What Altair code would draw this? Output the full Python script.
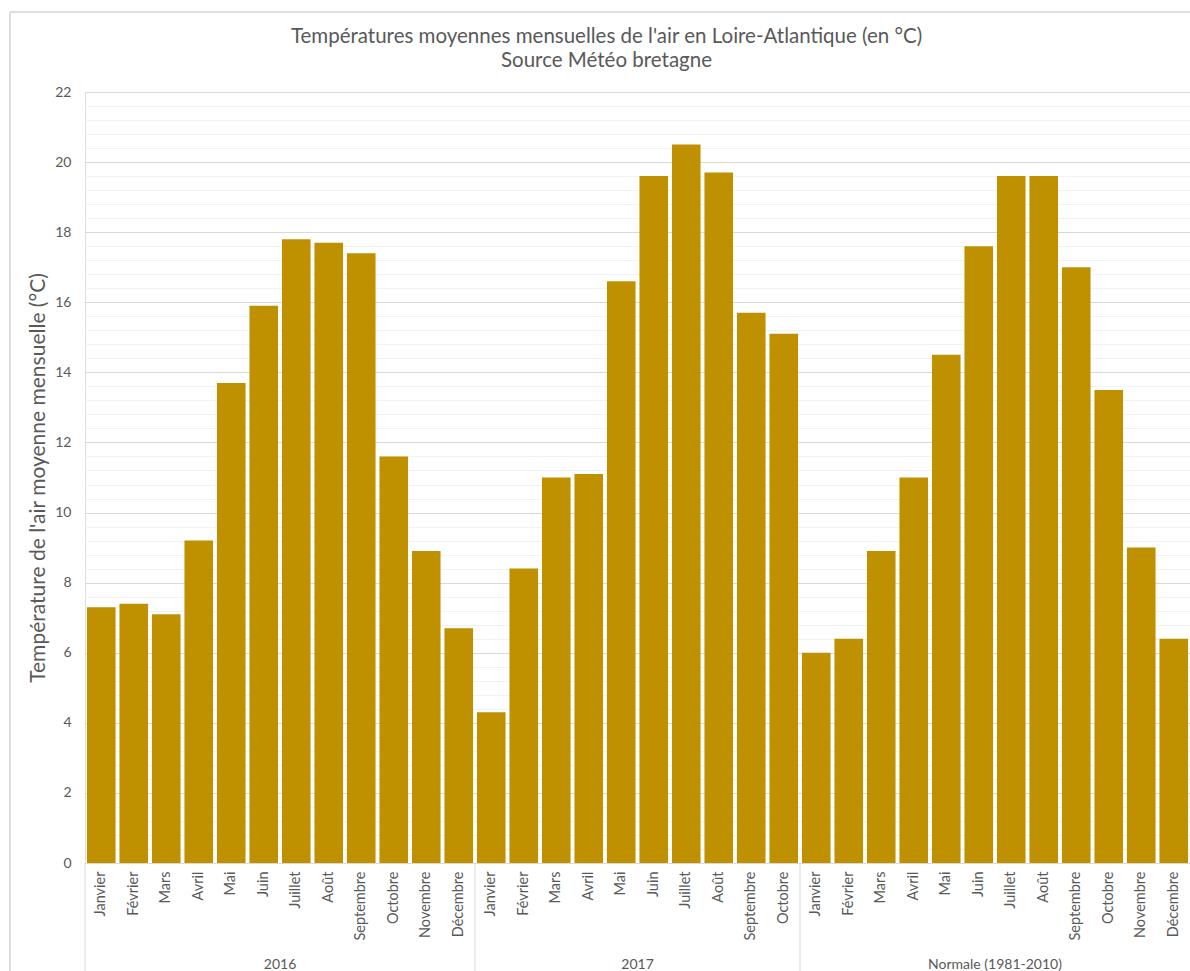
import altair as alt
import pandas as pd

# Monthly mean air temperatures (°C), Loire-Atlantique
months = ["Janvier", "Février", "Mars", "Avril", "Mai", "Juin", "Juillet",
          "Août", "Septembre", "Octobre", "Novembre", "Décembre"]
groups = ["2016", "2017", "Normale (1981-2010)"]
temps_2016 = [7.3, 7.4, 7.1, 9.2, 13.7, 15.9, 17.8, 17.7, 17.4, 11.6, 8.9, 6.7]
temps_2017 = [4.3, 8.4, 11.0, 11.1, 16.6, 19.6, 20.5, 19.7, 15.7, 15.1]
temps_normale = [6.0, 6.4, 8.9, 11.0, 14.5, 17.6, 19.6, 19.6, 17.0, 13.5, 9.0, 6.4]
title_lines = ["Températures moyennes mensuelles de l'air en Loire-Atlantique (en °C)",
               "Source Météo bretagne"]

rows = []
for grp, vals in zip(groups, [temps_2016, temps_2017, temps_normale]):
    for m, v in zip(months, vals):
        rows.append({"groupe": grp, "mois": m, "cle": f"{grp}|{m}", "temp": v})
df = pd.DataFrame(rows)
order = list(df["cle"])

# group boundaries (first bar of each group) and label anchors (middle of group)
bounds = pd.DataFrame({"cle": [f"{g}|Janvier" for g in groups]})
mid_month = {"2016": "Juin", "2017": "Mai", "Normale (1981-2010)": "Juin"}
glabels = pd.DataFrame({"cle": [f"{g}|{mid_month[g]}" for g in groups], "txt": groups})

W, H = 1105, 771
GREY = "#595959"
FONT = "Lato"

minor_vals = [round(k * 0.4, 1) for k in range(0, 56)]

xscale = alt.Scale(domain=order, paddingInner=0, paddingOuter=0)

bars = alt.Chart(df).mark_bar(color="#BF9000", width={"band": 0.88}).encode(
    x=alt.X("cle:N", sort=order, scale=xscale,
            axis=alt.Axis(title=None, labelAngle=270,
                          labelExpr="split(datum.label, '|')[1]",
                          labelFont=FONT, labelFontSize=14.5, labelColor=GREY,
                          labelPadding=8, ticks=False, domainColor="#D9D9D9",
                          labelOverlap=False)),
    y=alt.Y("temp:Q", scale=alt.Scale(domain=[0, 22], nice=False),
            axis=alt.Axis(values=minor_vals,
                          labelExpr="datum.value % 2 === 0 ? format(datum.value, 'd') : ''",
                          labelFont=FONT, labelFontSize=14, labelColor=GREY,
                          labelPadding=14, labelOverlap=False, ticks=False, domain=False,
                          gridColor={"condition": {"test": "datum.value % 2 === 0",
                                                   "value": "#D9D9D9"},
                                     "value": "#F2F2F2"},
                          title="Température de l'air moyenne mensuelle (°C)",
                          titleFont=FONT, titleFontSize=21, titleFontWeight="normal",
                          titleColor=GREY, titleAngle=270, titleX=-47, titleY=H / 2,
                          titleAlign="center", titleBaseline="middle")),
)

seps = alt.Chart(bounds).mark_rule(color="#D9D9D9", strokeWidth=1).encode(
    x=alt.X("cle:N", sort=order, scale=xscale, bandPosition=0),
    y=alt.value(H), y2=alt.value(H + 108),
)

glab = alt.Chart(glabels).mark_text(font=FONT, fontSize=14, color=GREY,
                                    baseline="middle").encode(
    x=alt.X("cle:N", sort=order, scale=xscale, bandPosition=1),
    y=alt.value(H + 102),
    text="txt:N",
)

# two-line chart title, centred over the chart area
title_df = pd.DataFrame({"txt": title_lines, "ligne": [0, 1]})
title = alt.Chart(title_df).mark_text(font=FONT, fontSize=20.5, color=GREY,
                                      baseline="middle").encode(
    x=alt.value(W / 2 - 31),
    y=alt.Y("ligne:Q", scale=alt.Scale(domain=[0, 1], range=[-55, -31]), axis=None),
    text="txt:N",
)

# chart-area frame (left and top edges)
frame_left = alt.Chart(bounds).mark_rule(color="#D9D9D9").encode(
    x=alt.value(-75), y=alt.value(-80), y2=alt.value(H + 108))
frame_top = alt.Chart(bounds).mark_rule(color="#D9D9D9").encode(
    x=alt.value(-75), x2=alt.value(W + 20), y=alt.value(-80))

chart = alt.layer(bars, seps, glab, title, frame_left, frame_top).resolve_scale(
    y="independent"
).properties(
    width=W, height=H,
    autosize=alt.AutoSizeParams(type="none"),
    padding={"left": 85, "top": 92, "right": 0, "bottom": 108},
).configure_view(stroke=None).configure(background="white")

chart.save("out.html", embed_options={"renderer": "svg", "actions": False})
